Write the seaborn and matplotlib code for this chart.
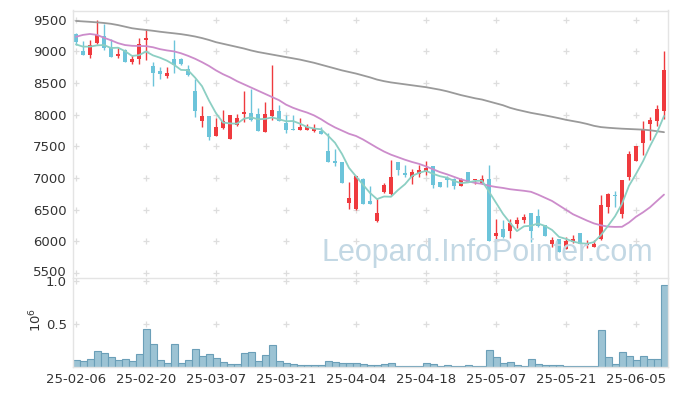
import matplotlib
matplotlib.use("Agg")
import matplotlib.pyplot as plt
import matplotlib.transforms as mtransforms
import seaborn as sns
import numpy as np
import pandas as pd

# ---------------- data ----------------
tick_labels = ["25-02-06", "25-02-20", "25-03-07", "25-03-21", "25-04-04",
               "25-04-18", "25-05-07", "25-05-21", "25-06-05"]

opens = [9278, 9010, 8936, 9131, 9236, 9068, 8926, 9026, 8831, 8884,
         9183, 8763, 8684, 8611, 8873, 8884, 8726, 8369, 7902, 7976,
         7666, 7792, 7618, 7839, 8007, 8033, 8007, 7729, 7981, 8054,
         7870, 7771, 7760, 7760, 7745, 7745, 7424, 7272, 7251, 6610,
         6505, 6994, 6637, 6316, 6784, 6747, 7251, 7078, 7020, 7062,
         7094, 7188, 6936, 6994, 6994, 6878, 7094, 6967, 6915, 6994,
         6085, 6190, 6170, 6274, 6338, 6443, 6400, 6259, 5960, 6038,
         5881, 5996, 6127, 5938, 5917, 6033, 6547, 6731, 6432, 7020,
         7272, 7555, 7850, 7902, 8060]
highs = [9288, 9157, 9173, 9498, 9435, 9199, 9068, 9041, 8936, 9215,
         9356, 8831, 8753, 8753, 9173, 8895, 8790, 8558, 8138, 7980,
         7950, 8080, 8000, 8017, 8369, 8401, 8112, 8206, 8779, 8159,
         7991, 7991, 7954, 7860, 7860, 7808, 7718, 7466, 7260, 6931,
         7040, 7000, 6878, 6694, 6925, 7293, 7260, 7214, 7151, 7214,
         7267, 7195, 6945, 7030, 7000, 7000, 7100, 6990, 7057, 7204,
         6359, 6337, 6348, 6390, 6440, 6450, 6506, 6265, 6075, 6045,
         6075, 6101, 6135, 6020, 6030, 6731, 6770, 6800, 6975, 7424,
         7510, 7897, 7960, 8149, 9000]
lows = [9094, 8936, 8900, 9120, 9015, 8910, 8894, 8831, 8805, 8805,
        8858, 8448, 8569, 8585, 8663, 8790, 8606, 7960, 7802, 7598,
        7660, 7771, 7610, 7830, 7886, 7905, 7740, 7720, 7923, 7895,
        7718, 7755, 7755, 7755, 7724, 7690, 7250, 7188, 6920, 6505,
        6500, 6585, 6590, 6300, 6770, 6740, 7057, 7020, 6915, 7010,
        7046, 6847, 6855, 6862, 6836, 6870, 6940, 6915, 6910, 6005,
        6022, 6060, 6049, 6220, 6290, 5996, 6235, 6085, 5907, 5835,
        5875, 5970, 5955, 5897, 5910, 6030, 6443, 6548, 6364, 6978,
        7265, 7361, 7608, 7818, 7939]
closes = [9146, 8936, 9104, 9262, 9052, 8910, 8963, 8831, 8884, 9110,
          9204, 8658, 8642, 8653, 8789, 8800, 8632, 8060, 7976, 7650,
          7802, 7897, 7991, 7954, 8044, 7912, 7745, 8017, 8070, 7902,
          7755, 7760, 7808, 7808, 7781, 7697, 7256, 7246, 6925, 6684,
          7030, 6595, 6595, 6442, 6889, 7010, 7125, 7052, 7094, 7135,
          7167, 6894, 6862, 6978, 6878, 6994, 6946, 6983, 6994, 6012,
          6127, 6064, 6285, 6332, 6390, 6170, 6243, 6091, 6023, 5839,
          6007, 6038, 5960, 5980, 5965, 6569, 6757, 6716, 6968, 7388,
          7503, 7755, 7912, 8096, 8700]

ma5 = [9110, 9075, 9075, 9095, 9100, 9053, 9058, 9004, 8928, 8940,
       8998, 8937, 8900, 8853, 8789, 8708, 8703, 8587, 8451, 8224,
       8024, 7877, 7863, 7859, 7938, 7960, 7929, 7934, 7958, 7929,
       7898, 7901, 7859, 7807, 7782, 7771, 7670, 7558, 7381, 7162,
       7028, 6896, 6766, 6669, 6710, 6706, 6812, 6904, 7034, 7083,
       7115, 7068, 7030, 7007, 6956, 6921, 6932, 6956, 6959, 6786,
       6612, 6436, 6296, 6164, 6240, 6248, 6284, 6245, 6183, 6073,
       6041, 6000, 5973, 5965, 5990, 6102, 6246, 6397, 6595, 6880,
       7066, 7266, 7505, 7718, 7980]
ma20 = [9230, 9260, 9275, 9260, 9215, 9175, 9130, 9100, 9088, 9085,
        9083, 9065, 9035, 9015, 9000, 8970, 8930, 8884, 8830, 8770,
        8700, 8640, 8590, 8530, 8480, 8430, 8380, 8330, 8280, 8230,
        8160, 8110, 8070, 8035, 7990, 7930, 7860, 7800, 7750, 7700,
        7665, 7610, 7545, 7480, 7420, 7370, 7330, 7290, 7255, 7225,
        7185, 7140, 7095, 7060, 7020, 6980, 6950, 6925, 6910, 6880,
        6860, 6845, 6825, 6812, 6800, 6784, 6740, 6690, 6640, 6570,
        6500, 6430, 6380, 6330, 6285, 6255, 6235, 6230, 6232, 6300,
        6390, 6460, 6540, 6640, 6740]
ma60 = [9480, 9473, 9466, 9458, 9448, 9435, 9415, 9390, 9365, 9350,
        9338, 9325, 9310, 9297, 9285, 9272, 9255, 9235, 9210, 9180,
        9145, 9120, 9095, 9070, 9045, 9015, 8990, 8970, 8950, 8930,
        8910, 8890, 8870, 8845, 8820, 8790, 8760, 8730, 8700, 8675,
        8650, 8620, 8590, 8555, 8530, 8510, 8495, 8480, 8465, 8450,
        8435, 8415, 8395, 8370, 8340, 8310, 8285, 8260, 8240, 8210,
        8180, 8150, 8110, 8080, 8055, 8030, 8010, 7990, 7968, 7945,
        7920, 7900, 7880, 7855, 7825, 7805, 7795, 7787, 7780, 7775,
        7770, 7765, 7755, 7740, 7725]

volume_m = [0.084, 0.073, 0.092, 0.187, 0.160, 0.115, 0.084, 0.092, 0.073, 0.149,
            0.435, 0.263, 0.084, 0.046, 0.263, 0.046, 0.084, 0.206, 0.126, 0.149,
            0.103, 0.057, 0.034, 0.034, 0.160, 0.172, 0.069, 0.137, 0.252, 0.069,
            0.046, 0.034, 0.023, 0.023, 0.023, 0.023, 0.069, 0.057, 0.051, 0.051,
            0.051, 0.039, 0.027, 0.027, 0.039, 0.051, 0.016, 0.016, 0.016, 0.008,
            0.051, 0.039, 0.016, 0.027, 0.016, 0.008, 0.027, 0.016, 0.016, 0.191,
            0.121, 0.051, 0.062, 0.027, 0.016, 0.098, 0.039, 0.027, 0.027, 0.027,
            0.008, 0.016, 0.016, 0.008, 0.016, 0.426, 0.121, 0.039, 0.168, 0.133,
            0.086, 0.133, 0.098, 0.098, 0.945]

# ---------------- style ----------------
sns.set_theme(style="white")
plt.rcParams["font.family"] = ["DejaVu Sans"]

UP = "#ef3a3e"
DOWN = "#6cc4da"
GRID = "#dddddd"
SPINE = "#e4e4e4"
TXT = "#333333"

n = len(closes)
idx = np.arange(n)
df = pd.DataFrame({"i": idx, "open": opens, "high": highs, "low": lows,
                   "close": closes, "ma5": ma5, "ma20": ma20, "ma60": ma60,
                   "vol": np.array(volume_m) * 1e6})

fig = plt.figure(figsize=(6.77, 3.96), dpi=100)
ax = fig.add_axes([72.5 / 677, 1 - 278 / 396, (667.5 - 72.5) / 677, (278 - 10.5) / 396])
axv = fig.add_axes([72.5 / 677, 1 - 367 / 396, (667.5 - 72.5) / 677, (367 - 278) / 396])

# ---------------- candles ----------------
o = df["open"].to_numpy(); c = df["close"].to_numpy()
h = df["high"].to_numpy(); l = df["low"].to_numpy()
up = c >= o
cols = np.where(up, UP, DOWN)
ax.vlines(idx, l, h, colors=cols, linewidth=1.0, zorder=2)
body_bottom = np.minimum(o, c)
body_h = np.maximum(np.abs(c - o), 22)
ax.bar(idx, body_h, bottom=body_bottom, width=0.66, color=cols, linewidth=0, zorder=2.5)

# moving averages
sns.lineplot(data=df, x="i", y="ma60", ax=ax, color="#9a9a9a", linewidth=1.3, zorder=3)
sns.lineplot(data=df, x="i", y="ma20", ax=ax, color="#cc8ccb", linewidth=1.3, zorder=3)
sns.lineplot(data=df, x="i", y="ma5", ax=ax, color="#8ccfc3", linewidth=1.3, zorder=3)

ax.set_xlim(-0.5, 84.5)
ax.set_ylim(5424, 9645)
yt = np.arange(5500, 9501, 500)
ax.set_yticks(yt)
ax.set_yticklabels([str(v) for v in yt])
xt = np.arange(0, 81, 10)
ax.set_xticks(xt)
ax.set_xticklabels([])
ax.set_xlabel(""); ax.set_ylabel("")

# plus-shaped grid markers
gx, gy = np.meshgrid(xt, yt)
ax.scatter(gx.ravel(), gy.ravel(), marker="+", s=20, color=GRID, linewidths=0.9, zorder=1)

ax.text(0.698, 0.095, "Leopard.InfoPointer.com", transform=ax.transAxes,
        ha="center", va="center", fontsize=22, color="#c3d8e4",
        family=["Liberation Sans", "DejaVu Sans"], zorder=4)

# ---------------- volume ----------------
sns.barplot(data=df, x="i", y="vol", ax=axv, native_scale=True, width=1.0,
            color="#9cc3d4", edgecolor="#6b9fb8", linewidth=0.8, saturation=1)
axv.set_xlim(-0.5, 84.5)
axv.set_ylim(0, 1.03e6)
axv.set_yticks([0.5e6, 1.0e6])
axv.set_yticklabels(["0.5", "1.0"])
axv.set_xticks(xt)
axv.set_xticklabels(tick_labels)
axv.set_xlabel(""); axv.set_ylabel("")
vx, vy = np.meshgrid(xt, [0.5e6, 1.0e6])
axv.scatter(vx.ravel(), vy.ravel(), marker="+", s=20, color=GRID, linewidths=0.9, zorder=0.5)
fig.text(36 / 677, 1 - 320 / 396, "$10^6$", rotation=90, ha="center", va="center",
         fontsize=9.5, color=TXT)

for a in (ax, axv):
    for s in a.spines.values():
        s.set_color(SPINE)
        s.set_linewidth(1.0)
    a.tick_params(axis="both", length=0, pad=4, labelsize=9.5, labelcolor=TXT)
    a.grid(False)
    a.set_facecolor("white")
ax.spines["bottom"].set_visible(False)
axv.spines["top"].set_color(SPINE)
# nudge the lowest price label up by a couple of pixels (reference: it sits just above "1.0")
shift = mtransforms.ScaledTranslation(0, 2 / 100, fig.dpi_scale_trans)
for lbl in ax.get_yticklabels():
    if lbl.get_text() == "5500":
        lbl.set_transform(lbl.get_transform() + shift)

fig.savefig("out.png", dpi=100, facecolor="white")
